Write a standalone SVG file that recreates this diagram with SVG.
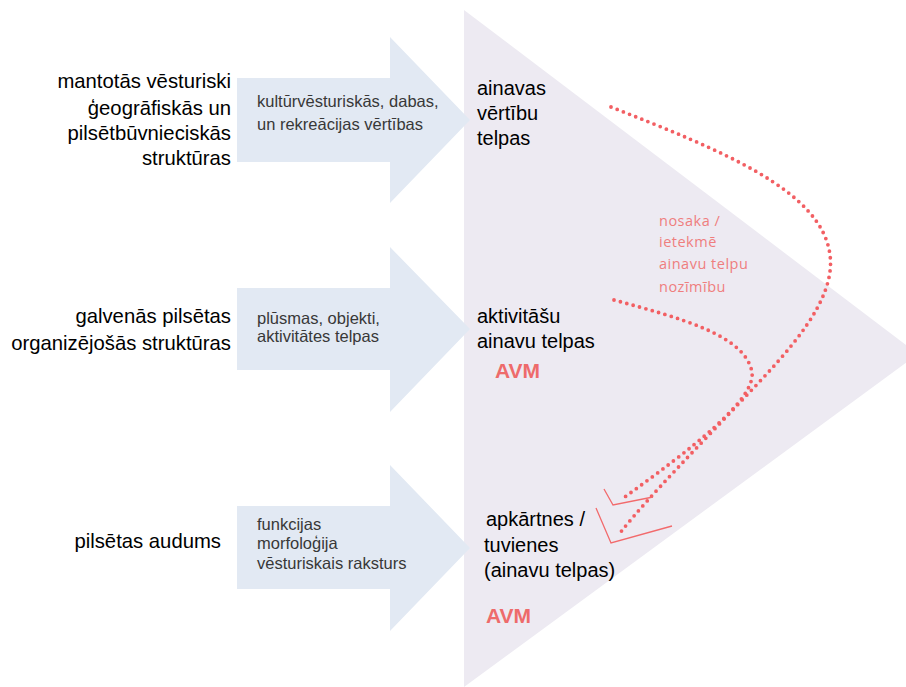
<svg xmlns="http://www.w3.org/2000/svg" width="906" height="687" viewBox="0 0 906 687">
<style>
.lbl{font-family:"Liberation Sans",Arial,sans-serif;font-size:20.3px;fill:#000}
.rt{font-family:"Liberation Sans",Arial,sans-serif;font-size:20px;fill:#000}
.arr{font-family:"Liberation Sans",Arial,sans-serif;font-size:16.5px;fill:#383838}
.avm{font-family:"Liberation Sans",Arial,sans-serif;font-size:21px;font-weight:bold;fill:#EE6B6B}
.note{font-family:"Open Sans","Liberation Sans",sans-serif;font-size:14.5px;fill:#EF7E7E;letter-spacing:0.5px}
.dot{fill:none;stroke:#F25F63;stroke-width:3.8;stroke-dasharray:0 6.6;stroke-linecap:round}
.head{fill:none;stroke:#F26A6C;stroke-width:1.3}
.arrow{fill:#E2E9F3}
</style>
<rect width="906" height="687" fill="#fff"/>
<polygon id="triangle" points="464,10 918,354 464,687" fill="#EDEAF2"/>
<g id="arrow1">
<polygon class="arrow" points="237,78 390,78 390,37 470,120 390,203 390,162 237,162"/>
<text class="arr" x="257" y="107">kultūrvēsturiskās, dabas,</text>
<text class="arr" x="257" y="130">un rekreācijas vērtības</text>
</g>
<g id="arrow2">
<polygon class="arrow" points="237,288 390,288 390,247 470,329 390,412 390,370 237,370"/>
<text class="arr" x="257" y="324">plūsmas, objekti,</text>
<text class="arr" x="257" y="342">aktivitātes telpas</text>
</g>
<g id="arrow3">
<polygon class="arrow" points="237,506 390,506 390,465 470,548 390,631 390,589 237,589"/>
<text class="arr" x="257" y="530">funkcijas</text>
<text class="arr" x="257" y="549">morfoloģija</text>
<text class="arr" x="257" y="569">vēsturiskais raksturs</text>
</g>
<g id="source1">
<text class="lbl" text-anchor="end" x="231" y="88">mantotās vēsturiski</text>
<text class="lbl" text-anchor="end" x="231" y="115">ģeogrāfiskās un</text>
<text class="lbl" text-anchor="end" x="231" y="140">pilsētbūvnieciskās</text>
<text class="lbl" text-anchor="end" x="231" y="165">struktūras</text>
</g>
<g id="source2">
<text class="lbl" text-anchor="end" x="231" y="323">galvenās pilsētas</text>
<text class="lbl" text-anchor="end" x="231" y="350">organizējošās struktūras</text>
</g>
<g id="source3">
<text class="lbl" text-anchor="end" x="221" y="548">pilsētas audums</text>
</g>
<g id="space1">
<text class="rt" x="477" y="95">ainavas</text>
<text class="rt" x="477" y="120">vērtību</text>
<text class="rt" x="477" y="145">telpas</text>
</g>
<g id="space2">
<text class="rt" x="477" y="323">aktivitāšu</text>
<text class="rt" x="477" y="348">ainavu telpas</text>
<text class="avm" x="495" y="378">AVM</text>
</g>
<g id="space3">
<text class="rt" x="486" y="526">apkārtnes /</text>
<text class="rt" x="484" y="552">tuvienes</text>
<text class="rt" x="484" y="577">(ainavu telpas)</text>
<text class="avm" x="486" y="623">AVM</text>
</g>
<g id="note">
<text class="note" x="659" y="226">nosaka /</text>
<text class="note" x="659" y="247">ietekmē</text>
<text class="note" x="659" y="269">ainavu telpu</text>
<text class="note" x="659" y="292">nozīmību</text>
</g>
<g id="connectors">
<path class="dot" d="M611,107 C720,150 822,190 830,255 C836,300 790,350 745,397 C700,445 650,495 620,533"/>
<path class="dot" d="M614,300 C680,318 745,335 752,372 C756,400 690,450 622,499"/>
<polyline class="head" points="604,489 613,505 653,497"/>
<polyline class="head" points="596,508 611,543 672,526"/>
</g>
</svg>
